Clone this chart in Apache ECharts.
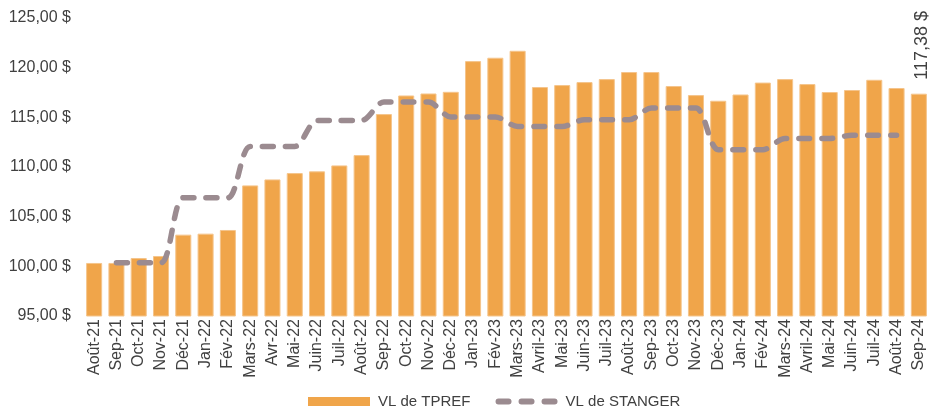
<!DOCTYPE html>
<html>
<head>
<meta charset="utf-8">
<script src="https://cdn.jsdelivr.net/npm/echarts@6/dist/echarts.min.js"></script>
<style>
  html, body { margin: 0; padding: 0; background: #fff; }
  #chart { width: 930px; height: 408px; }
</style>
</head>
<body>
<div id="chart"></div>
<script>
// mois (axe x)
const months = [
  'Août-21', 'Sep-21', 'Oct-21', 'Nov-21', 'Déc-21', 'Jan-22', 'Fév-22', 'Mars-22',
  'Avr-22', 'Mai-22', 'Juin-22', 'Juil-22', 'Août-22', 'Sep-22', 'Oct-22', 'Nov-22',
  'Déc-22', 'Jan-23', 'Fév-23', 'Mars-23', 'Avril-23', 'Mai-23', 'Juin-23', 'Juil-23',
  'Août-23', 'Sep-23', 'Oct-23', 'Nov-23', 'Déc-23', 'Jan-24', 'Fév-24', 'Mars-24',
  'Avril-24', 'Mai-24', 'Juin-24', 'Juil-24', 'Août-24', 'Sep-24'
]

// VL de TPREF (barres)
const tpref = [
  100.34, 100.34, 100.84, 101.04, 103.19, 103.29, 103.66, 108.15,
  108.75, 109.39, 109.56, 110.16, 111.20, 115.33, 117.20, 117.40,
  117.57, 120.66, 121.00, 121.70, 118.05, 118.25, 118.55, 118.85,
  119.56, 119.56, 118.15, 117.24, 116.67, 117.30, 118.50, 118.85,
  118.35, 117.55, 117.75, 118.78, 117.95, 117.38
]

// VL de STANGER (ligne pointillée)
const stanger = [
  null, 100.35, 100.35, 100.35, 106.90, 106.90, 106.90, 112.07,
  112.07, 112.07, 114.69, 114.69, 114.69, 116.54, 116.54, 116.54,
  115.04, 115.04, 115.04, 114.08, 114.08, 114.08, 114.76, 114.76,
  114.76, 115.93, 115.93, 115.93, 111.74, 111.74, 111.74, 112.88,
  112.88, 112.88, 113.19, 113.19, 113.19, null
]

// graduations de l'axe y
const yMin = 95
const yMax = 125
const yStep = 5

const fmt = (v) => v.toFixed(2).replace('.', ',') + ' $'
const font = "'Liberation Sans', Arial, sans-serif"
const barColor = '#F0A54A'
const lineColor = '#9B8B90'

// icône de légende : trois tirets arrondis
const dashIcon = 'path://M0,0h0.01v0.01h-0.01z M0,8.99h0.01v0.01h-0.01z' +
  ' M3,1.5h10a3,3 0 0 1 0,6h-10a3,3 0 0 1 0,-6z' +
  ' M26,1.5h10a3,3 0 0 1 0,6h-10a3,3 0 0 1 0,-6z' +
  ' M49,1.5h10a3,3 0 0 1 0,6h-10a3,3 0 0 1 0,-6z'

const myChart = echarts.init(document.getElementById('chart'))

const barData = tpref.map((v, i) => {
  if (i !== tpref.length - 1) return v
  // étiquette seulement sur le dernier mois
  return {
    value: v,
    label: {
      show: true,
      position: 'top',
      rotate: 90,
      align: 'left',
      verticalAlign: 'middle',
      distance: 14,
      offset: [0, 3],
      fontSize: 18,
      fontFamily: font,
      color: '#404040',
      formatter: (p) => fmt(p.value)
    }
  }
})

const option = {
  animation: false,
  textStyle: { fontFamily: font },
  grid: {
    left: 83,
    top: 18,
    width: 849,
    height: 298
  },
  legend: {
    left: 303,
    top: 389,
    itemWidth: 62,
    itemHeight: 9,
    itemGap: 25,
    textStyle: {
      fontSize: 15,
      fontFamily: font,
      color: '#404040',
      padding: [0, 0, 0, 3]
    },
    data: [
      { name: 'VL de TPREF', icon: 'rect', itemStyle: { color: barColor, borderWidth: 0 } },
      { name: 'VL de STANGER', icon: dashIcon, itemStyle: { color: lineColor, borderWidth: 0 } }
    ]
  },
  xAxis: {
    type: 'category',
    data: months,
    axisLine: { show: false },
    axisTick: { show: false },
    axisLabel: {
      interval: 0,
      rotate: 90,
      margin: 3,
      fontSize: 16,
      fontFamily: font,
      color: '#404040'
    }
  },
  yAxis: {
    type: 'value',
    min: yMin,
    max: yMax,
    interval: yStep,
    axisLine: { show: false },
    axisTick: { show: false },
    splitLine: { show: false },
    axisLabel: {
      margin: 12,
      fontSize: 16,
      fontFamily: font,
      color: '#404040',
      formatter: fmt
    }
  },
  series: [
    {
      name: 'VL de TPREF',
      type: 'bar',
      barCategoryGap: '28%',
      itemStyle: {
        color: barColor,
        borderColor: '#F5C58C',
        borderWidth: 1
      },
      data: barData
    },
    {
      name: 'VL de STANGER',
      type: 'line',
      symbol: 'none',
      smooth: 0.3,
      lineStyle: {
        color: lineColor,
        width: 5.5,
        type: [11, 12],
        cap: 'round'
      },
      itemStyle: { color: lineColor },
      data: stanger
    }
  ]
}

myChart.setOption(option)
</script>
</body>
</html>
